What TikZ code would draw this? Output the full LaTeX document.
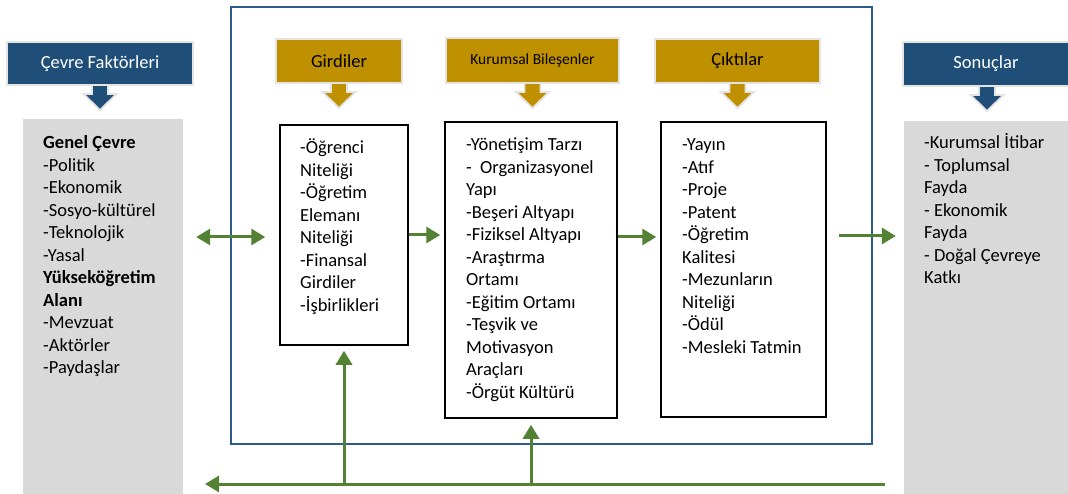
\documentclass[tikz,border=0pt]{standalone}
\usepackage{fontspec}
\setmainfont{Carlito}
\usetikzlibrary{arrows.meta}
\definecolor{hblue}{HTML}{1F4E79}
\definecolor{fblue}{HTML}{2E5C8A}
\definecolor{gold}{HTML}{BF9000}
\definecolor{lgray}{HTML}{D9D9D9}
\definecolor{agreen}{HTML}{548235}
\definecolor{halo}{HTML}{E4E4E4}
\newcommand\hdrarrow[2]{\filldraw[fill=#2, draw=halo, line width=1.8pt, line join=miter]
  ([xshift=-8pt]#1.south) -- ++(0,9) -- ++(-8.5,0) -- ++(16.5,16) -- ++(16.5,-16) -- ++(-8.5,0) -- ++(0,-9) -- cycle;}
\begin{document}
\begin{tikzpicture}[x=1pt,y=-1pt,
  hdr/.style={rectangle, draw=halo, line width=2.5pt, inner sep=0, font=\fontsize{18.5}{22}\selectfont},
  bluehdr/.style={hdr, fill=hblue, text=white},
  goldhdr/.style={hdr, fill=gold, text=black},
  wbox/.style={rectangle, draw=black, line width=1.5pt, fill=white, inner sep=0},
  gbox/.style={rectangle, fill=lgray, inner sep=0},
  txt/.style={anchor=base west, inner sep=0, align=flush left, text width=170pt, font=\fontsize{18.5}{22.5}\selectfont},
  garrow/.style={draw=agreen, line width=3pt, -{Triangle[length=14pt,width=16pt]}},
  gdarrow/.style={draw=agreen, line width=3pt, {Triangle[length=14pt,width=16pt]}-{Triangle[length=14pt,width=16pt]}}
]
\useasboundingbox (0,0) rectangle (1068,494);
\fill[white] (0,0) rectangle (1068,494);

% outer frame
\node[rectangle, draw=fblue, line width=2pt, minimum width=641pt, minimum height=437pt, inner sep=0] (frame) at (551.5,225.5) {};

% grey side boxes
\node[gbox, minimum width=160pt, minimum height=375pt] (env) at (103,306.5) {};
\node[gbox, minimum width=164pt, minimum height=373pt] (res) at (986,307.5) {};

% white boxes
\node[wbox, minimum width=128pt, minimum height=220pt] (gird) at (344,235) {};
\node[wbox, minimum width=172pt, minimum height=296pt] (kur) at (531,270) {};
\node[wbox, minimum width=165pt, minimum height=295pt] (ck) at (743.5,269.5) {};

% header arrows (drawn before headers)
\coordinate (hA) at (100,85);
\coordinate (hB) at (339,83);
\coordinate (hC) at (532.5,83);
\coordinate (hD) at (737.5,83);
\coordinate (hE) at (987,86);
\hdrarrow{hA}{hblue}
\hdrarrow{hB}{gold}
\hdrarrow{hC}{gold}
\hdrarrow{hD}{gold}
\hdrarrow{hE}{hblue}

% headers
\node[bluehdr, minimum width=186pt, minimum height=43pt] (hcevre) at (100,63.5) {Çevre Faktörleri};
\node[goldhdr, minimum width=126pt, minimum height=44pt] (hgird) at (339,61) {Girdiler};
\node[goldhdr, minimum width=173pt, minimum height=45pt, font=\fontsize{15.5}{18}\selectfont] (hkur) at (532.5,60.5) {Kurumsal Bileşenler};
\node[goldhdr, minimum width=165pt, minimum height=44pt] (hck) at (737.5,61) {Çıktılar};
\node[bluehdr, minimum width=166pt, minimum height=44pt] (hson) at (986,64) {Sonuçlar};

% texts
\node[txt] (tenv) at (43,149) {\textbf{Genel Çevre}\\-Politik\\-Ekonomik\\-Sosyo-kültürel\\-Teknolojik\\-Yasal\\\textbf{Yükseköğretim}\\\textbf{Alanı}\\-Mevzuat\\-Aktörler\\-Paydaşlar};
\node[txt] (tgird) at (300,154) {-Öğrenci\\Niteliği\\-Öğretim\\Elemanı\\Niteliği\\-Finansal\\Girdiler\\-İşbirlikleri};
\node[txt] (tkur) at (466,151) {-Yönetişim Tarzı\\-\ \ Organizasyonel\\Yapı\\-Beşeri Altyapı\\-Fiziksel Altyapı\\-Araştırma\\Ortamı\\-Eğitim Ortamı\\-Teşvik ve\\Motivasyon\\Araçları\\-Örgüt Kültürü};
\node[txt] (tck) at (682,151) {-Yayın\\-Atıf\\-Proje\\-Patent\\-Öğretim\\Kalitesi\\-Mezunların\\Niteliği\\-Ödül\\-Mesleki Tatmin};
\node[txt] (tres) at (924,149) {-Kurumsal İtibar\\- Toplumsal\\Fayda\\- Ekonomik\\Fayda\\- Doğal Çevreye\\Katkı};

% green connectors
\draw[gdarrow] ([xshift=13pt,yshift=-2pt]env.east |- gird.west) -- ([xshift=-14pt,yshift=-2pt]gird.west);
\draw[garrow] (gird.east) -- ([xshift=-4pt]kur.west |- gird.east);
\draw[garrow] ([yshift=-2pt]kur.east |- gird.east) -- ([xshift=-4pt,yshift=-2pt]ck.west |- gird.east);
\draw[garrow] ([xshift=12pt,yshift=-1pt]ck.east |- gird.east) -- ([xshift=-8pt,yshift=-1pt]res.west |- gird.east);

\coordinate (fbR) at (885,484);
\coordinate (fbL) at (205,484);
\draw[garrow] (fbR) -- (fbL);
\draw[garrow] (gird.south |- fbR) -- ([yshift=-5pt]gird.south);
\draw[garrow] (kur.south |- fbR) -- ([yshift=-6pt]kur.south);
\end{tikzpicture}
\end{document}
